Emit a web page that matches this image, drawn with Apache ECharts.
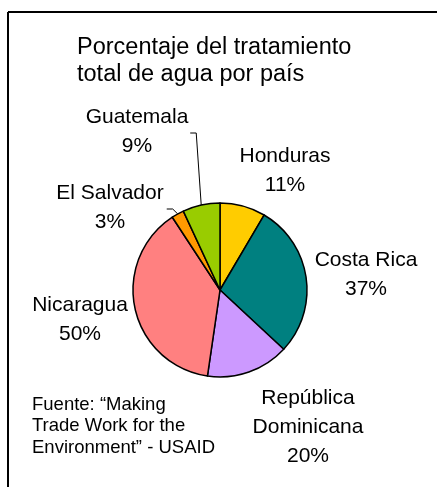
<!DOCTYPE html>
<html>
<head>
<meta charset="utf-8">
<script src="https://cdn.jsdelivr.net/npm/echarts@6/dist/echarts.min.js"></script>
<style>
  html, body { margin: 0; padding: 0; background: #fff; }
  #main { width: 437px; height: 487px; }
</style>
</head>
<body>
<div id="main"></div>
<script>
// datos del gráfico
const paises = ["Honduras", "Costa Rica", "República\nDominicana", "Nicaragua", "El Salvador", "Guatemala"];
const porcentajes = [11, 37, 20, 50, 3, 9];
const colores = ["#FFCC00", "#008080", "#CC99FF", "#FF8080", "#FF9900", "#99CC00"];
// posición de cada etiqueta (centro del bloque de texto)
const posEtiquetas = [[285, 171], [366, 275], [308, 427], [80, 320], [110, 208], [137, 132]];
// etiquetas con línea guía
const conLinea = [4, 5];

const chart = echarts.init(document.getElementById("main"));

const option = {
  animation: false,
  title: [
    {
      text: "Porcentaje del tratamiento\ntotal de agua por país",
      left: 77,
      top: 34,
      padding: 0,
      textStyle: {
        fontFamily: "Liberation Sans",
        fontSize: 23.5,
        fontWeight: "normal",
        color: "#000",
        lineHeight: 27,
      },
    },
    {
      text: "Fuente: “Making\nTrade Work for the\nEnvironment” - USAID",
      left: 32,
      top: 394,
      padding: 0,
      textStyle: {
        fontFamily: "Liberation Sans",
        fontSize: 18.5,
        fontWeight: "normal",
        color: "#000",
        lineHeight: 21.5,
      },
    },
  ],
  // marco (solo borde superior e izquierdo visibles)
  graphic: [
    { id: "bordeSup", type: "line", shape: { x1: 8, y1: 12, x2: 437, y2: 12 }, style: { stroke: "#000", lineWidth: 2 } },
    { id: "bordeIzq", type: "line", shape: { x1: 8, y1: 12, x2: 8, y2: 487 }, style: { stroke: "#000", lineWidth: 2 } },
  ],
  series: [
    {
      type: "pie",
      center: [220, 290],
      radius: 87,
      startAngle: 90,
      clockwise: true,
      avoidLabelOverlap: false,
      itemStyle: { borderColor: "#000", borderWidth: 1.5 },
      label: {
        show: true,
        formatter: "{b}\n{c}%",
        fontFamily: "Liberation Sans",
        fontSize: 21,
        lineHeight: 29,
        color: "#000",
        align: "center",
      },
      labelLine: { show: false },
      labelLayout: function (params) {
        const p = posEtiquetas[params.dataIndex];
        return { x: p[0], y: p[1], align: "center", verticalAlign: "middle" };
      },
      emphasis: { disabled: true },
      data: paises.map((nombre, i) => ({
        name: nombre,
        value: porcentajes[i],
        itemStyle: { color: colores[i] },
      })),
    },
  ],
};

chart.setOption(option);

// líneas guía: desde el punto medio del borde de cada sector hasta su etiqueta
const datosPie = chart.getModel().getSeriesByIndex(0).getData();
const guias = conLinea.map((i) => {
  const l = datosPie.getItemLayout(i);
  const a = (l.startAngle + l.endAngle) / 2;
  const sx = l.cx + l.r * Math.cos(a);
  const sy = l.cy + l.r * Math.sin(a);
  const ly = posEtiquetas[i][1] + 1;
  return {
    id: "guia" + i,
    type: "polyline",
    z: 10,
    shape: { points: [[sx, sy], [sx - 5, ly], [sx - 11, ly]] },
    style: { stroke: "#000", lineWidth: 1, fill: null },
  };
});
chart.setOption({ graphic: guias });
</script>
</body>
</html>
